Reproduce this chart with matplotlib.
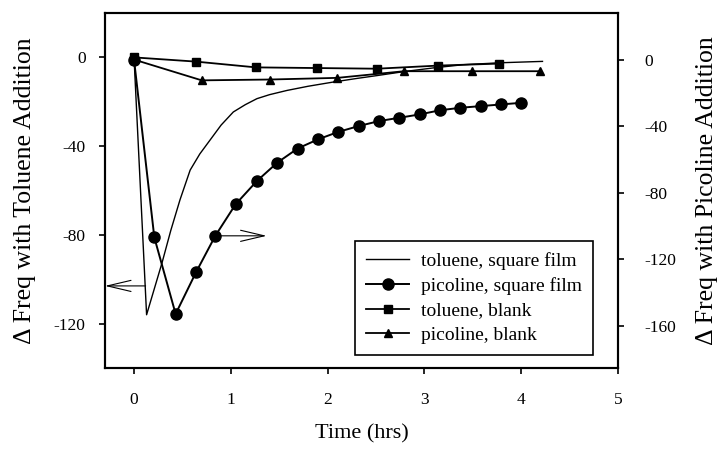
import matplotlib.pyplot as plt

plt.rcParams['font.family'] = ['Liberation Serif', 'DejaVu Serif']
plt.rcParams['axes.unicode_minus'] = False

# =========================
# Data
# =========================
# toluene, square film -> left axis
tol_film_t = [0, 0.13, 0.29, 0.38, 0.475, 0.58, 0.68, 0.785, 0.9, 1.026, 1.15, 1.27,
              1.4, 1.58, 1.8, 2.06, 2.3, 2.51, 2.79, 3.1, 3.4, 3.8, 4.22]
tol_film_f = [0, -116, -92.5, -78, -64.2, -50.8, -43.5, -37.3, -30.5, -24.6, -21.3, -18.6,
              -16.8, -14.9, -13, -11.1, -9.5, -8.2, -6.4, -4.7, -3.3, -2.4, -1.8]

# picoline, square film -> right axis
pic_film_t = [0, 0.21, 0.43, 0.64, 0.84, 1.05, 1.27, 1.48, 1.69, 1.90,
              2.11, 2.32, 2.53, 2.74, 2.95, 3.16, 3.37, 3.58, 3.79, 4.0]
pic_film_f = [0, -107, -153, -128, -106, -87, -73, -62, -53.5, -48,
              -43.5, -40, -37, -35, -33, -30.5, -29, -28, -27, -26]

# toluene, blank -> left axis
tol_blank_t = [0, 0.64, 1.26, 1.89, 2.51, 3.14, 3.77]
tol_blank_f = [0, -1.9, -4.5, -4.8, -5.1, -3.7, -2.8]

# picoline, blank -> right axis
pic_blank_t = [0, 0.70, 1.40, 2.10, 2.79, 3.49, 4.19]
pic_blank_f = [0, -12.5, -12, -11, -7, -7, -7]

left_ticks = [0, -40, -80, -120]
right_ticks = [0, -40, -80, -120, -160]
x_ticks = [0, 1, 2, 3, 4, 5]

# =========================
# Figure
# =========================
fig = plt.figure(figsize=(7.18, 4.49), dpi=100)
ax1 = fig.add_axes([0.1462, 0.1804, 0.7145, 0.7906])
ax2 = ax1.twinx()

l1, = ax1.plot(tol_film_t, tol_film_f, color='k', lw=1.0, label='toluene, square film')
l3, = ax1.plot(tol_blank_t, tol_blank_f, color='k', lw=1.3, marker='s', ms=5.5,
               label='toluene, blank')
l2, = ax2.plot(pic_film_t, pic_film_f, color='k', lw=1.4, marker='o', ms=8,
               label='picoline, square film')
l4, = ax2.plot(pic_blank_t, pic_blank_f, color='k', lw=1.3, marker='^', ms=6,
               label='picoline, blank')

ax1.set_xlim(-0.3, 5)
ax1.set_ylim(-140, 20)
ax2.set_ylim(-185.5, 28)
ax1.set_xticks(x_ticks)
ax1.set_yticks(left_ticks)
ax2.set_yticks(right_ticks)

for a in (ax1, ax2):
    a.tick_params(direction='out', length=4, width=1.2, labelsize=12.5, color='k')
    for s in a.spines.values():
        s.set_linewidth(1.5)
ax1.tick_params(axis='x', pad=13)
ax1.tick_params(axis='y', pad=10)
ax2.tick_params(axis='y', pad=15)

ax1.set_xlabel('Time (hrs)', fontsize=16, labelpad=12)
ax1.set_ylabel('\u0394 Freq with Toluene Addition', fontsize=18.5, labelpad=13)
ax2.set_ylabel('\u0394 Freq with Picoline Addition', fontsize=18.5, labelpad=14)

# arrows pointing to the matching axis
ax1.annotate('', xy=(-0.3, -103), xytext=(0.12, -103),
             arrowprops=dict(arrowstyle='->,head_length=1.7,head_width=0.4',
                             lw=0.8, color='k', shrinkA=0, shrinkB=0))
ax2.annotate('', xy=(1.37, -106), xytext=(0.84, -106),
             arrowprops=dict(arrowstyle='->,head_length=1.7,head_width=0.4',
                             lw=0.8, color='k', shrinkA=0, shrinkB=0))

leg = ax2.legend(handles=[l1, l2, l3, l4], loc='upper right',
                 bbox_to_anchor=(0.952, 0.3586), borderaxespad=0,
                 fontsize=14, handlelength=2.2, handletextpad=0.6,
                 labelspacing=0.35, borderpad=0.6, fancybox=False,
                 framealpha=1, edgecolor='k')
leg.get_frame().set_linewidth(1.2)

plt.savefig('out.png', dpi=100)
